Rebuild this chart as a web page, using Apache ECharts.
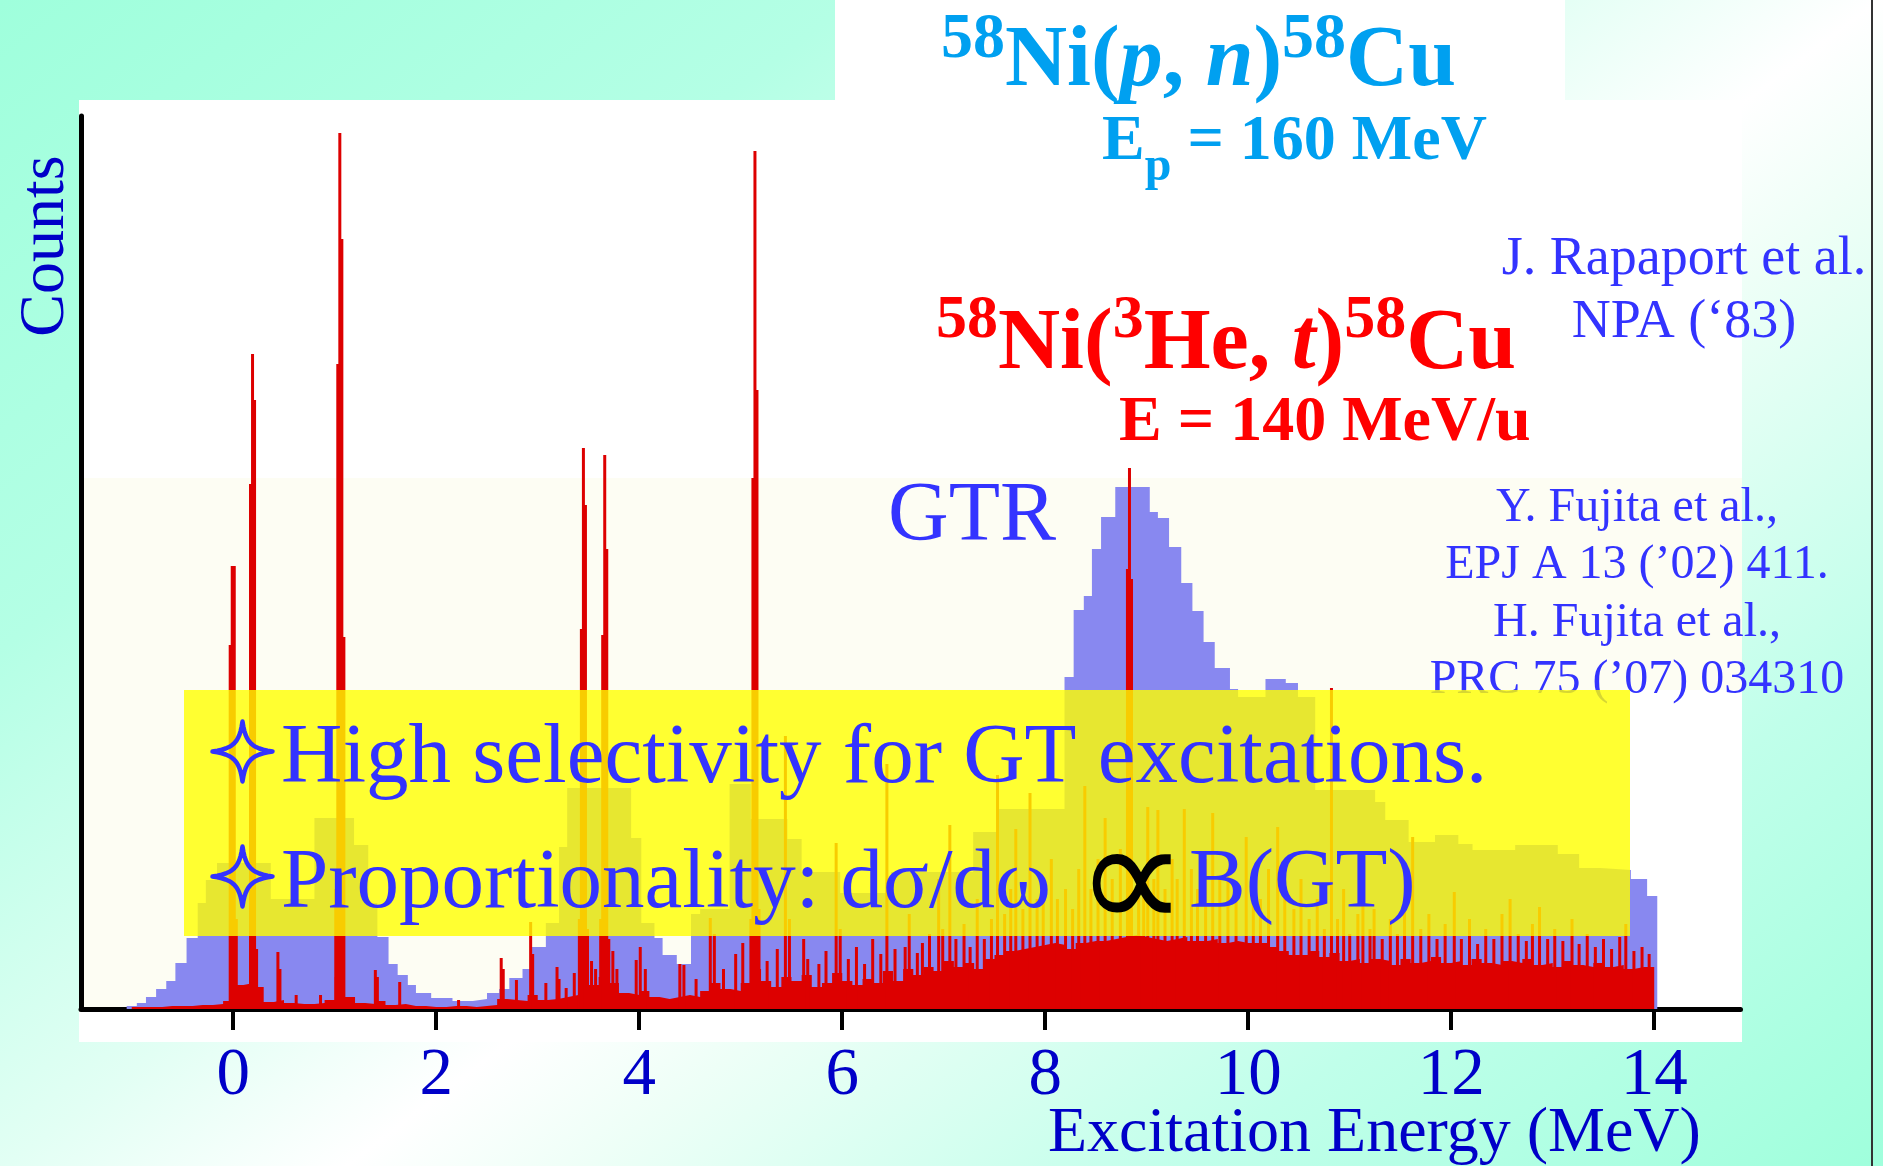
<!DOCTYPE html>
<html><head><meta charset="utf-8">
<script src="https://cdn.jsdelivr.net/npm/echarts@6/dist/echarts.min.js"></script>
<style>html,body{margin:0;padding:0;background:#fff}#c{width:1883px;height:1166px}</style>
</head><body><div id="c"></div>
<script>
// ---------- data ----------
const xTicks = [0, 2, 4, 6, 8, 10, 12, 14];

// 58Ni(p,n) histogram: [left bin edge (MeV), counts]
const pnBins = [
 [-1.15,0],[-1.05,3],[-0.95,6],[-0.86,12],[-0.76,20],[-0.66,28],[-0.57,46],[-0.46,71],[-0.35,106],[-0.27,129],
 [-0.16,146],[0.37,110],[0.80,191],[1.19,164],[1.33,106],[1.42,72],[1.53,45],[1.62,34],[1.72,24],[1.80,16],
 [1.95,11],[2.16,8],[2.36,10],[2.50,16],[2.62,20],[2.72,31],[2.85,40],[2.93,62],[3.08,86],[3.21,162],
 [3.29,221],[3.92,171],[4.02,86],[4.15,71],[4.23,54],[4.37,45],[4.51,95],[4.60,100],[4.89,225],[5.10,190],
 [5.46,170],[5.60,137],[5.98,116],[6.48,137],[7.29,177],[7.54,200],[8.19,332],[8.28,399],[8.38,413],[8.46,460],
 [8.55,492],[8.69,522],[9.03,497],[9.11,491],[9.22,462],[9.34,426],[9.45,398],[9.56,367],[9.67,341],[9.82,320],
 [9.90,312],[10.17,330],[10.37,326],[10.49,312],[10.66,219],[11.25,207],[11.35,189],[11.58,167],[11.84,174],[12.07,165],
 [12.21,159],[12.63,164],[13.05,155],[13.26,141],[13.47,139],[13.77,130],[13.93,113],[14.03,0]
];

// 58Ni(3He,t) continuum, 0.1 MeV bins starting at -1.0 MeV
const tHeBaseStart = -1.0;
const tHeBaseStep = 0.1;
const tHeBase = [
 2,2,2,3,3,3,4,4,5,8,
 24,26,22,7,9,6,5,5,6,9,
 32,12,6,5,8,4,5,3,3,2,
 2,3,3,2,3,4,10,9,8,14,
 9,10,12,14,30,24,32,26,16,14,
 18,12,10,12,14,12,18,26,20,18,
 26,40,28,22,32,28,34,22,26,36,
 28,24,30,26,38,28,40,34,42,38,
 48,42,46,40,50,54,58,60,62,64,
 66,64,60,66,68,68,70,72,74,72,
 70,68,70,72,68,68,70,66,68,66,
 66,66,62,58,54,54,58,52,56,48,
 50,46,50,48,44,50,46,48,52,46,
 48,44,50,46,44,48,46,50,44,46,
 42,48,44,42,46,42,44,40,42,42
];

// 58Ni(3He,t) sharp lines: [Ex (MeV), counts]
const tHeLines = [
 [-0.03,364],[-0.01,443],[0.01,443],[0.03,90],
 [0.17,525],[0.19,655],[0.21,609],[0.23,60],
 [0.44,57],[0.46,40],[0.62,14],[0.86,14],
 [1.01,120],[1.03,645],[1.05,876],[1.07,770],[1.09,372],
 [1.40,39],[1.42,32],[1.64,27],[2.22,9],
 [2.64,51],[2.66,40],[2.79,29],[2.93,87],[2.95,55],[3.08,26],[3.19,42],[3.21,30],[3.28,21],[3.36,36],
 [3.41,90],[3.43,380],[3.45,561],[3.47,504],[3.49,80],
 [3.53,48],[3.57,40],
 [3.62,90],[3.64,374],[3.66,554],[3.68,460],[3.70,70],
 [3.74,58],[3.78,40],[3.97,49],[4.01,62],[4.06,40],[4.40,45],[4.44,44],[4.56,30],
 [4.70,91],[4.74,75],[4.83,40],[4.95,55],[5.02,66],
 [5.10,90],[5.12,531],[5.14,858],[5.16,619],[5.18,100],
 [5.26,48],[5.36,60],[5.44,273],[5.48,90],[5.62,70],[5.66,50],[5.77,45],[5.84,58],[5.94,166],[5.98,80],
 [6.06,50],[6.14,62],[6.22,45],[6.30,70],[6.38,55],[6.44,245],[6.52,60],[6.62,62],[6.66,95],[6.74,56],[6.79,66],[6.86,75],[6.95,130],[6.99,80],
 [7.06,184],[7.12,70],[7.20,85],[7.26,62],[7.33,110],[7.40,70],[7.47,90],[7.53,234],[7.60,95],[7.66,120],[7.71,180],[7.78,100],[7.85,216],[7.92,110],[7.98,130],
 [8.06,150],[8.12,110],[8.20,120],[8.27,100],[8.33,140],[8.39,223],[8.45,120],[8.52,150],[8.59,191],[8.66,130],[8.74,160],
 [8.81,440],[8.83,541],[8.85,430],
 [8.92,140],[8.97,120],
 [9.01,202],[9.07,130],[9.11,199],[9.18,120],[9.25,150],[9.30,130],[9.37,200],[9.44,140],[9.50,120],[9.58,150],[9.65,196],[9.72,130],[9.80,140],[9.88,120],[9.98,172],
 [10.05,130],[10.12,110],[10.20,140],[10.29,182],[10.36,120],[10.45,100],[10.52,130],[10.60,90],[10.68,110],[10.75,80],[10.82,321],[10.88,90],[10.94,120],[11.00,75],
 [11.08,95],[11.13,110],[11.20,80],[11.24,100],[11.32,70],[11.40,90],[11.47,75],[11.54,100],[11.62,172],[11.70,80],[11.78,95],[11.86,70],[11.94,85],[12.03,117],
 [12.10,70],[12.18,90],[12.26,65],[12.34,80],[12.42,70],[12.50,95],[12.58,110],[12.66,75],[12.74,68],[12.80,85],[12.87,102],[12.95,70],[13.02,80],[13.10,68],
 [13.19,90],[13.26,65],[13.34,75],[13.42,62],[13.50,70],[13.58,60],[13.66,72],[13.72,85],[13.80,58],[13.88,62],[13.95,55]
];

// ---------- build ----------
const serif = '"Liberation Serif","Times New Roman",serif';
const baseData = tHeBase.map((v, i) => [+(tHeBaseStart + i * tHeBaseStep).toFixed(2), v]);
baseData.push([+(tHeBaseStart + tHeBase.length * tHeBaseStep).toFixed(2), 0]);

const W = 1883, H = 1166;
const bgGrad = new echarts.graphic.LinearGradient(1193, -907, 2445, 739, [
  {offset: 0, color: '#9fffdc'}, {offset: 0.25, color: '#b4ffe5'}, {offset: 0.45, color: '#e2fff4'},
  {offset: 0.55, color: '#ffffff'}, {offset: 0.62, color: '#eefff7'}, {offset: 0.8, color: '#c0ffea'},
  {offset: 1, color: '#9fffdc'}], true);

function txt(x, y, text, font, fill, align, z, extra) {
  return Object.assign({type: 'text', x: x, y: y, z: z || 11, silent: true,
    style: {text: text, font: font, fill: fill, align: align || 'left', textAlign: align || 'left',
            verticalAlign: 'middle', textVerticalAlign: 'middle'}}, extra || {});
}
// four-pointed star outline (bullet glyph) as a polygon of cubic-curve samples
function star(cx, cy, r) {
  const pts = [];
  const k = 0.3 * r, q = 0.1 * r;
  const segs = [
    [[0,-r],[q,-k],[k,-q],[r,0]], [[r,0],[k,q],[q,k],[0,r]],
    [[0,r],[-q,k],[-k,q],[-r,0]], [[-r,0],[-k,-q],[-q,-k],[0,-r]]
  ];
  segs.forEach(s => {
    for (let j = 0; j < 12; j++) {
      const t = j / 12, u = 1 - t;
      pts.push([
        cx + u*u*u*s[0][0] + 3*u*u*t*s[1][0] + 3*u*t*t*s[2][0] + t*t*t*s[3][0],
        cy + u*u*u*s[0][1] + 3*u*u*t*s[1][1] + 3*u*t*t*s[2][1] + t*t*t*s[3][1]
      ]);
    }
  });
  return {type: 'polygon', z: 11, silent: true, shape: {points: pts},
    style: {fill: 'none', stroke: '#3333ff', lineWidth: 4.5, lineJoin: 'round'}};
}
function richTitle(x, y, text, color, mainSize, supSize, lh) {
  return {type: 'text', x: x, y: y, z: 11, silent: true,
    style: {text: text, fill: color, align: 'left', textAlign: 'left', verticalAlign: 'top', textVerticalAlign: 'top',
      rich: {
        s: {font: 'bold ' + supSize + 'px ' + serif, fill: color, verticalAlign: 'top', height: supSize},
        m: {font: 'bold ' + mainSize + 'px ' + serif, fill: color, verticalAlign: 'bottom', height: mainSize, lineHeight: lh},
        i: {font: 'italic bold ' + mainSize + 'px ' + serif, fill: color, verticalAlign: 'bottom', height: mainSize, lineHeight: lh}
      }}};
}

const option = {
  animation: false,
  grid: {left: 81, right: 142.5, top: 116, bottom: 157, containLabel: false},
  xAxis: {
    type: 'value', min: -1.5, max: 14.85,
    axisLine: {show: true, onZero: false, lineStyle: {color: '#000', width: 5}},
    axisTick: {show: true, customValues: xTicks, length: 21, lineStyle: {color: '#000', width: 4}},
    axisLabel: {show: true, customValues: xTicks, margin: 34, fontSize: 67, fontFamily: serif, color: '#0000c8'},
    splitLine: {show: false}
  },
  yAxis: {
    type: 'value', min: 0, max: 893,
    axisLine: {show: true, onZero: false, lineStyle: {color: '#000', width: 5}},
    axisTick: {show: false}, axisLabel: {show: false}, splitLine: {show: false}
  },
  series: [
    {name: '(p,n)', type: 'line', step: 'end', symbol: 'none', data: pnBins,
     lineStyle: {width: 0}, areaStyle: {color: '#8888f0', opacity: 1}, z: 2},
    {name: '(3He,t) continuum', type: 'line', step: 'end', symbol: 'none', data: baseData,
     lineStyle: {width: 0}, areaStyle: {color: '#dd0000', opacity: 1}, z: 3},
    {name: '(3He,t) lines', type: 'bar', data: tHeLines, barWidth: 3,
     itemStyle: {color: '#dd0000'}, z: 4}
  ],
  graphic: {elements: [
    {type: 'rect', z: -10, silent: true, shape: {x: 0, y: 0, width: W, height: H}, style: {fill: bgGrad}},
    {type: 'rect', z: -9, silent: true, shape: {x: 835, y: 0, width: 730, height: 101}, style: {fill: '#ffffff'}},
    {type: 'rect', z: -9, silent: true, shape: {x: 79, y: 100, width: 1663, height: 942}, style: {fill: '#ffffff'}},
    {type: 'rect', z: -8, silent: true, shape: {x: 79, y: 478, width: 1551, height: 531}, style: {fill: '#fdfdf3'}},
    {type: 'rect', z: -8, silent: true, shape: {x: 1630, y: 478, width: 112, height: 212}, style: {fill: '#fdfdf3'}},
    {type: 'rect', z: -8, silent: true, shape: {x: 1871, y: 0, width: 2, height: H}, style: {fill: '#333333'}},

    richTitle(941, 8, '{s|58}{m|Ni(}{i|p}{m|, }{i|n}{m|)}{s|58}{m|Cu}', '#00a0f0', 86, 64, 98),
    {type: 'text', x: 1102, y: 110, z: 11, silent: true,
     style: {text: '{m|E}{b|p}{m| = 160 MeV}', fill: '#00a0f0', align: 'left', textAlign: 'left', verticalAlign: 'top', textVerticalAlign: 'top',
       rich: {m: {font: 'bold 64px ' + serif, fill: '#00a0f0', verticalAlign: 'top', height: 64},
              b: {font: 'bold 48px ' + serif, fill: '#00a0f0', verticalAlign: 'bottom', height: 48, lineHeight: 82}}}},
    richTitle(936, 290, '{s|58}{m|Ni(}{s|3}{m|He, }{i|t}{m|)}{s|58}{m|Cu}', '#ff0000', 86, 62, 99),
    txt(1119, 423, 'E = 140 MeV/u', 'bold 64px ' + serif, '#ff0000'),

    txt(888, 518, 'GTR', '84px ' + serif, '#3333ff', 'left', 5),
    txt(1684, 260, 'J. Rapaport et al.', '54px ' + serif, '#3333ff', 'center', 5),
    txt(1684, 323, 'NPA (\u201883)', '54px ' + serif, '#3333ff', 'center', 5),
    txt(1637, 508, 'Y. Fujita et al.,', '48px ' + serif, '#3333ff', 'center', 5),
    txt(1637, 565, 'EPJ A 13 (\u201902) 411.', '48px ' + serif, '#3333ff', 'center', 5),
    txt(1637, 623, 'H. Fujita et al.,', '48px ' + serif, '#3333ff', 'center', 5),
    txt(1637, 680, 'PRC 75 (\u201907) 034310', '48px ' + serif, '#3333ff', 'center', 5),

    {type: 'rect', z: 10, silent: true, shape: {x: 184, y: 690, width: 1446, height: 246}, style: {fill: 'rgba(255,255,0,0.8)'}},
    star(242.5, 751.5, 30),
    txt(281, 760, 'High selectivity for GT excitations.', '85px ' + serif, '#3333ff'),
    star(242.5, 876.5, 30),
    txt(281, 885, 'Proportionality: d\u03c3/d\u03c9', '85px ' + serif, '#3333ff'),
    txt(1076, 889, '\u221d', '156px "DejaVu Sans",sans-serif', '#000000'),
    txt(1189, 885, 'B(GT)', '85px ' + serif, '#3333ff'),

    txt(46, 246, 'Counts', '64px ' + serif, '#0000c8', 'center', 11, {rotation: Math.PI / 2}),
    txt(1048, 1134, 'Excitation Energy (MeV)', '64px ' + serif, '#0000c8')
  ]}
};

const chart = echarts.init(document.getElementById('c'), null, {renderer: 'canvas', width: W, height: H});
chart.setOption(option);
</script>
</body></html>
